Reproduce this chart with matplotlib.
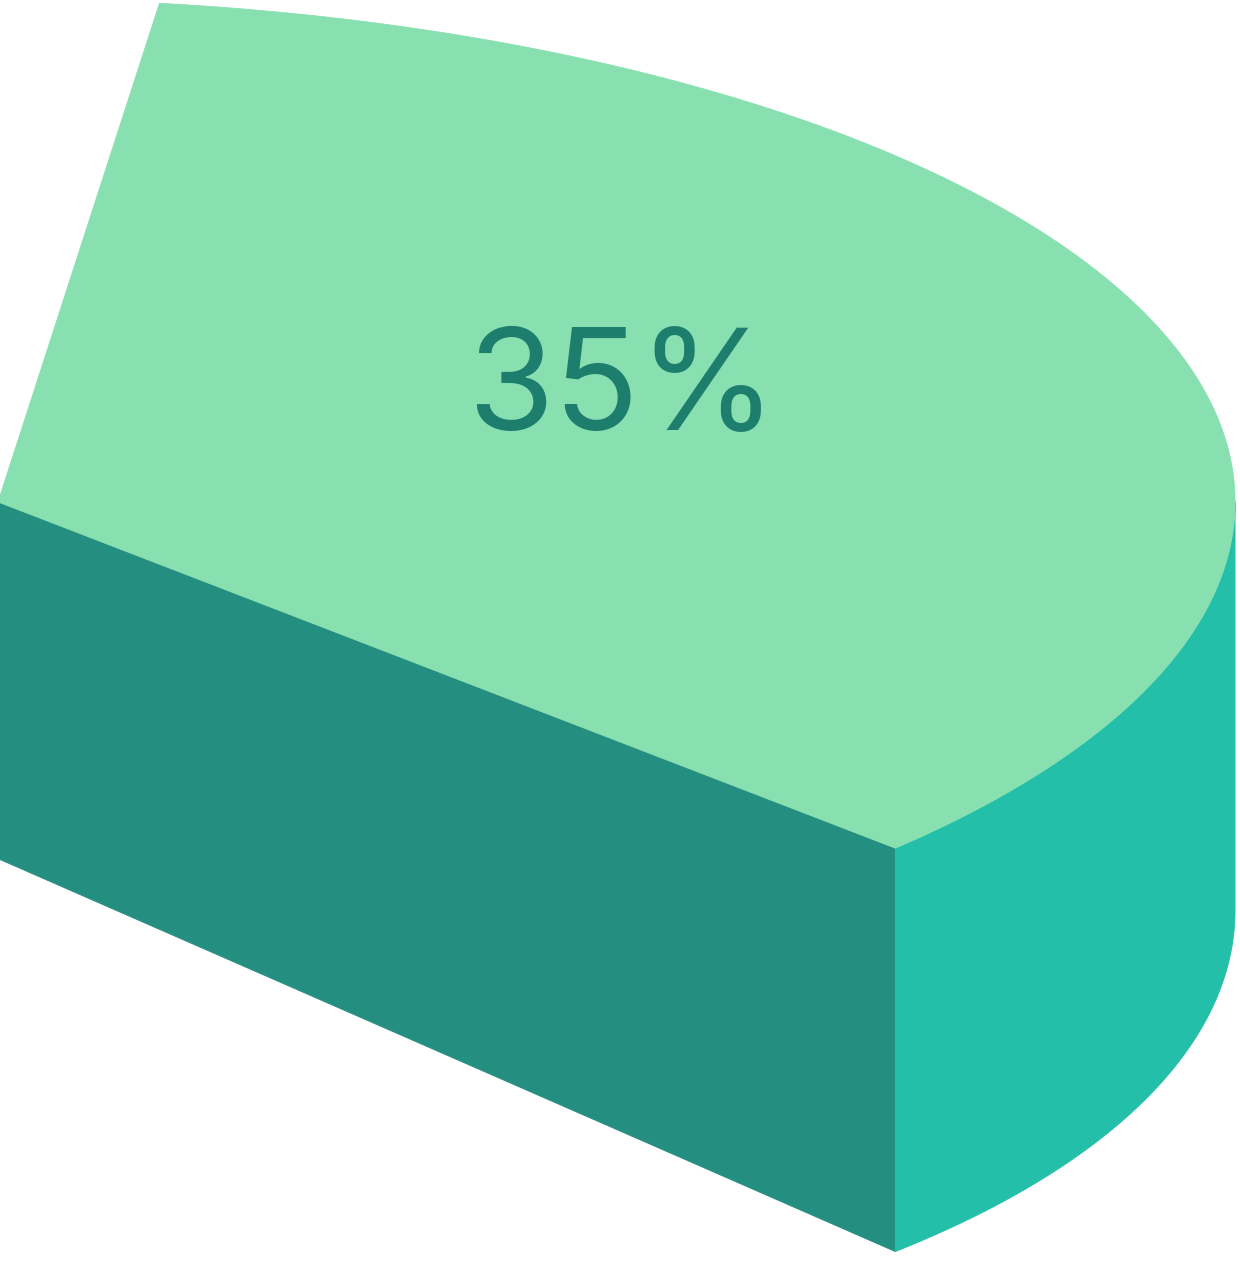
import numpy as np
import matplotlib
matplotlib.use("Agg")
import matplotlib.pyplot as plt
from matplotlib.patches import Polygon

# ---- data ----
labels = ["35%"]
shares = [0.35]
start_angle = -43.5  # degrees, slice runs counter-clockwise from here

# ---- colours ----
top_color = "#88e0b0"
front_color = "#248f80"
side_color = "#23bfa8"
text_color = "#1e7e6e"

# ---- view (radius = 1) ----
tilt = 0.4066        # vertical squash of the top face
depth0 = 0.2884      # wall height at the pie centre
depth_u = 0.0415     # wall gets taller towards the viewer (fake perspective)
depth_v = -0.0111
view_x = (0.0016, 1.0040)
view_y = (-0.6193, 0.4058)


def top_pt(r, phi):
    return np.column_stack([r * np.cos(phi), r * tilt * np.sin(phi)])


def bottom_pt(r, phi):
    u, v = r * np.cos(phi), r * np.sin(phi)
    pts = top_pt(r, phi)
    pts[:, 1] -= depth0 + depth_u * u + depth_v * v
    return pts


def main():
    fig = plt.figure(figsize=(12.4, 12.68), dpi=100)
    ax = fig.add_axes([0, 0, 1, 1])
    ax.set_xlim(*view_x)
    ax.set_ylim(*view_y)
    ax.axis("off")

    phi0 = np.radians(start_angle)
    span = 2 * np.pi * shares[0]
    phi1 = phi0 + span
    kw = dict(closed=True, linewidth=0.6, joinstyle="miter")

    # radial wall at the start edge (faces the viewer when cos(phi0) > 0)
    if np.cos(phi0) > 0:
        r = np.array([0.0, 1.0])
        ph = np.full(2, phi0)
        pts = np.vstack([top_pt(r, ph), bottom_pt(r, ph)[::-1]])
        ax.add_patch(Polygon(pts, facecolor=front_color,
                             edgecolor=front_color, **kw))

    # radial wall at the end edge
    if np.cos(phi1) < 0:
        r = np.array([0.0, 1.0])
        ph = np.full(2, phi1)
        pts = np.vstack([top_pt(r, ph), bottom_pt(r, ph)[::-1]])
        ax.add_patch(Polygon(pts, facecolor=front_color,
                             edgecolor=front_color, **kw))

    # curved outer wall, only the front half is visible
    a0, a1 = max(phi0, -np.pi), min(phi1, 0.0)
    if a1 > a0:
        ph = np.linspace(a0, a1, 300)
        ones = np.ones_like(ph)
        pts = np.vstack([top_pt(ones, ph), bottom_pt(ones, ph)[::-1]])
        ax.add_patch(Polygon(pts, facecolor=side_color,
                             edgecolor=side_color, **kw))

    # top face
    ph = np.linspace(phi0, phi1, 400)
    pts = np.vstack([[0.0, 0.0], top_pt(np.ones_like(ph), ph)])
    ax.add_patch(Polygon(pts, facecolor=top_color,
                         edgecolor=top_color, **kw))

    # label at the centroid of the sector, nudged up a little
    r_c = 4 * np.sin(span / 2) / (3 * span)
    lx, ly = top_pt(r_c, np.array([phi0 + span / 2]))[0]
    ax.annotate(labels[0], xy=(lx, ly), xytext=(-4, 13),
                textcoords="offset points", ha="center", va="center",
                fontsize=101, color=text_color,
                family=["Inter", "DejaVu Sans"])

    fig.savefig("out.png", dpi=100, facecolor="white")


if __name__ == "__main__":
    main()
